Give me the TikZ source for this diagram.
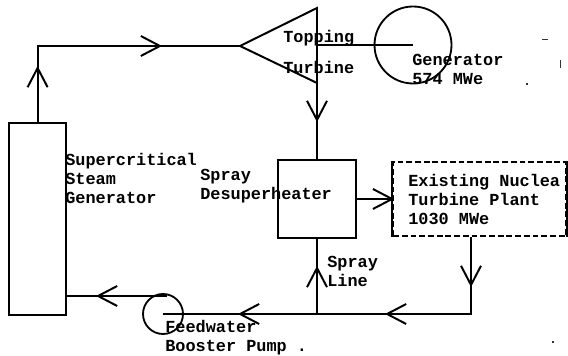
\documentclass[tikz,border=0pt]{standalone}
\usepackage{fontspec}
\setmonofont{Liberation Mono}
\usepackage{tikz}
\usetikzlibrary{arrows.meta,calc}
\tikzset{
  unit/.style    = {rectangle, draw=black, line width=1.4pt, inner sep=0pt},
  wheel/.style   = {circle, draw=black, line width=1.3pt, inner sep=0pt},
  pipe/.style    = {line width=1.4pt, black},
  flow/.style    = {-{Straight Barb[length=4.8mm,width=5mm]}, line width=1.4pt, black, shorten >=-1.5pt},
  tag/.style     = {anchor=north west, align=left, inner sep=0pt,
                    font=\ttfamily\bfseries\fontsize{12}{13.4}\selectfont},
  speck/.style   = {fill=black!80, inner sep=0pt},
}
\begin{document}
\begin{tikzpicture}
    \useasboundingbox (0,0) rectangle (14.2,8.9);

    % plant units
    \node[unit, minimum width=14.25mm, minimum height=48mm] (boiler) at (0.94,3.425) {};
    \node[unit, minimum width=19.5mm, minimum height=19.5mm] (desup) at (7.925,3.925) {};
    \node[unit, dashed, dash pattern=on 4.2pt off 2pt, minimum width=43.25mm, minimum height=18.5mm] (plant) at (11.99,3.925) {};
    \draw[pipe] (plant.north west) -- (plant.south west);
    \draw[pipe] (plant.north east) -- (plant.south east);
    \node[wheel, minimum size=19.25mm] (gen) at (10.325,7.775) {};
    \node[wheel, minimum size=10mm] (pump) at (4.075,1.05) {};

    % topping turbine and its shaft
    \coordinate (turbin) at (6.0,7.75);
    \coordinate (turbtop) at (7.925,8.7);
    \coordinate (turbbot) at (7.925,6.825);
    \draw[pipe] (turbin) -- (turbtop) -- (turbbot) -- cycle;
    \draw[pipe] (gen.center -| turbtop) -- (gen.center);

    % arrow tips along the lines
    \coordinate (tipup) at (0.94,7.2);
    \coordinate (tiptop) at (4.0,7.75);
    \coordinate (tipdown) at (7.925,5.9);
    \coordinate (tipspray) at (7.925,2.2);
    \coordinate (tipret) at (11.775,1.775);
    \coordinate (tipback) at (9.675,1.05);
    \coordinate (tippump) at (6.0,1.05);
    \coordinate (tipfeed) at (2.45,1.5);
    \coordinate (pumpout) at (4.175,1.5);

    % steam from boiler to turbine to desuperheater
    \draw[flow] (boiler.north) -- (tipup);
    \draw[flow] (tipup) |- (tiptop);
    \draw[pipe] (tiptop) -- (turbin);
    \draw[flow] (turbbot) -- (tipdown);
    \draw[pipe] (tipdown) -- (desup.north);
    \draw[flow] (desup.east) -- (plant.west);

    % return line
    \draw[flow] (plant.south -| tipret) -- (tipret);
    \draw[flow] (tipret) |- (tipback);
    \draw[flow] (tipback) -- (tippump);
    \draw[pipe] (tippump) -- (pump.center);
    \draw[flow] (desup.south |- pump.center) -- (tipspray);
    \draw[pipe] (tipspray) -- (desup.south);
    \draw[flow] (pumpout) -- (tipfeed);
    \draw[pipe] (tipfeed) -- (boiler.east |- tipfeed);

    % labels
    \node[tag] (ltop) at (7.075,8.15) {Topping};
    \node[tag] (lturb) at (7.075,7.375) {Turbine};
    \node[tag] (lgen) at (10.3,7.55) {Generator\\574 MWe};
    \node[tag] (lboil) at (1.625,5.075) {Supercritical\\Steam\\Generator};
    \node[tag] (lsup) at (5.0,4.675) {Spray\\Desuperheater};
    \node[tag] (lplant) at (10.2,4.55) {Existing Nuclea\\Turbine Plant\\1030 MWe};
    \node[tag] (lspray) at (8.175,2.5) {Spray\\Line};
    \node[tag] (lpump) at (4.125,0.89) {Feedwater\\Booster Pump .};

    % specks
    \node[speck, minimum size=1.2pt] (s1) at (13.175,6.8) {};
    \node[speck, minimum size=1.2pt] (s2) at (13.825,0.35) {};
    \node[speck, minimum width=4pt, minimum height=0.6pt] (s3) at (13.62,7.925) {};
    \node[speck, minimum width=0.6pt, minimum height=5pt] (s4) at (14.0,7.3) {};
\end{tikzpicture}
\end{document}
